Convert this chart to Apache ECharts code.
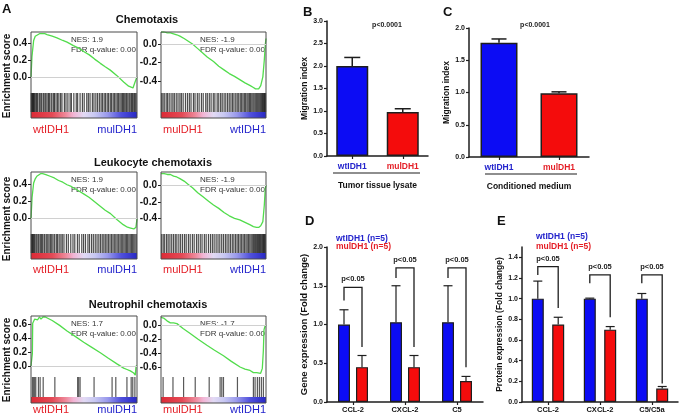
<!DOCTYPE html>
<html><head><meta charset="utf-8">
<script src="https://cdn.jsdelivr.net/npm/echarts@6/dist/echarts.min.js"></script>
<style>html,body{margin:0;padding:0;background:#fff}#c{width:680px;height:414px}</style>
</head><body><div id="c"></div>
<script>
// ================= DATA =================
// GSEA running enrichment score curves (x = % of ranked gene list)
const chemoWtX  = [0,0.9,2.5,4,5.7,8,10.4,13,15.1,20,24.5,30,34,40,45,49.7,55,60,65.4,70,74.8,81.1,87.4,92.1,96.2,97.8,99,100];
const chemoWtES = [0,0.24,0.43,0.48,0.50,0.51,0.51,0.51,0.50,0.48,0.46,0.43,0.41,0.37,0.34,0.30,0.26,0.21,0.16,0.12,0.08,0.015,-0.06,-0.11,-0.13,-0.115,-0.03,0.0];
const chemoMuX  = [0,3,6,9,12,15,18,22,26,30,35,40,44,50,55,60,65,70,75,80,85,88,90,93,95,97,98.4,99.4,100];
const chemoMuES = [0.13,0.13,0.12,0.12,0.11,0.10,0.085,0.06,0.03,0.0,-0.05,-0.10,-0.14,-0.19,-0.24,-0.28,-0.32,-0.35,-0.385,-0.42,-0.45,-0.47,-0.485,-0.485,-0.45,-0.355,-0.17,0.0,0.06];
const leukoWtX  = [0,1,2.5,4,5.5,7,9,11,14,18,22,26,30,34,38,42,46,50,55,60,65,70,75,81,87,91,94,97,99,100];
const leukoWtES = [0,0.25,0.42,0.47,0.50,0.52,0.53,0.53,0.52,0.50,0.48,0.45,0.43,0.40,0.38,0.35,0.32,0.29,0.25,0.20,0.15,0.10,0.06,-0.01,-0.07,-0.10,-0.11,-0.12,-0.10,0.0];
const leukoMuX  = [0,3,6,9,12,15,18,22,26,30,35,40,45,50,55,60,65,70,75,80,85,88,91,93,95,97,98.4,99.3,100];
const leukoMuES = [0.14,0.14,0.13,0.13,0.11,0.10,0.08,0.05,0.01,-0.03,-0.09,-0.14,-0.19,-0.24,-0.28,-0.33,-0.37,-0.40,-0.42,-0.45,-0.48,-0.50,-0.51,-0.51,-0.49,-0.44,-0.24,-0.04,0.0];
const neutroWtX  = [0,1.3,1.6,2.5,3.5,4.7,6.3,7.9,9.4,11.3,13.5,20,27,34,41,49.7,57,65.4,73,81.1,87.4,90.6,93.7,95.3,96.9,98.4,99.1,100];
const neutroWtES = [0,0.18,0.61,0.62,0.67,0.68,0.66,0.70,0.67,0.70,0.70,0.65,0.58,0.50,0.43,0.34,0.27,0.19,0.11,0.03,-0.03,-0.05,-0.07,-0.05,-0.10,-0.13,0.0,0.0];
const neutroMuX  = [0,2.5,5.7,8.9,10.4,12,15.2,21,27.8,35,43.7,51,59.5,67,75.3,80,84.8,88,89.6,91.1,92.7,94.9,96.5,97.5,98.1,99,100];
const neutroMuES = [0.11,0.10,0.06,0.03,0.05,0.03,0.02,-0.05,-0.12,-0.20,-0.29,-0.36,-0.44,-0.52,-0.60,-0.63,-0.65,-0.68,-0.66,-0.68,-0.66,-0.69,-0.62,-0.36,-0.07,-0.02,0.0];

// gene-set hit positions (barcode), % of ranked list
const chemoWtHits = [0.2,0.7,1.2,1.7,2.2,2.7,3.2,4.4,5.3,6.1,7.6,8.4,9.5,10.3,11.8,13.1,14.0,15.2,16.6,17.3,18.9,19.8,21.4,22.1,23.6,25.0,26.3,27.9,29.2,31.5,33.0,34.8,36.9,38.1,40.4,42.7,44.0,46.3,48.5,50.2,52.6,54.1,55.7,57.9,59.4,61.2,62.8,64.5,66.1,67.4,69.0,70.3,71.9,73.2,74.8,76.0,77.5,78.7,80.1,81.4,82.6,83.9,85.1,86.3,87.2,88.4,89.5,90.3,91.4,92.6,93.5,94.7,95.6,96.4,97.5,98.3,99.2];
const chemoMuHits = [0.5,1.8,3.1,4.9,6.2,7.8,9.6,11.3,12.7,14.5,16.2,18.0,19.4,21.1,23.3,25.2,27.0,28.6,30.9,32.4,34.6,36.3,38.5,40.2,42.6,44.1,46.0,47.7,49.8,51.3,53.5,55.0,56.8,58.3,60.1,61.7,63.4,65.0,66.6,68.1,69.5,71.2,72.6,74.0,75.5,76.8,78.1,79.4,80.6,81.9,83.0,84.2,85.3,86.5,87.6,88.6,89.7,90.7,91.6,92.5,93.4,94.3,95.1,95.9,96.7,97.4,98.0,98.6,99.1,99.6];
const leukoWtHits = [0.3,0.8,1.4,2.0,2.6,3.4,4.6,5.5,6.7,7.5,8.8,9.9,11.0,12.4,13.2,14.8,15.9,17.1,18.5,19.6,20.8,22.3,23.9,25.1,26.6,28.2,29.5,31.1,33.4,35.2,37.5,39.6,41.3,43.8,45.5,47.9,49.6,51.4,53.7,55.2,57.1,58.8,60.6,62.3,64.0,65.6,67.2,68.7,70.1,71.6,73.0,74.5,75.9,77.3,78.6,80.0,81.3,82.7,84.0,85.2,86.5,87.7,88.9,90.1,91.2,92.4,93.6,94.8,95.9,97.0,98.1,99.3];
const leukoMuHits = [0.6,2.1,3.5,5.3,6.8,8.5,10.2,11.9,13.6,15.1,17.0,18.7,20.5,22.4,24.0,26.1,27.8,29.9,31.6,33.8,35.5,37.4,39.1,41.3,43.0,45.2,47.1,48.9,50.6,52.5,54.3,56.0,57.8,59.5,61.3,62.9,64.6,66.2,67.9,69.4,71.0,72.5,73.9,75.4,76.8,78.2,79.5,80.9,82.1,83.4,84.6,85.8,86.9,88.0,89.1,90.1,91.1,92.0,92.9,93.8,94.6,95.4,96.2,96.9,97.6,98.2,98.8,99.4];
const neutroWtHits = [1.3,2.5,3.5,4.5,7,8.6,11.5,22.5,44,45,46.3,59.5,76.5,80,90.5,94.5,96,98];
const neutroMuHits = [2,11.4,21.5,32.6,45.9,56.3,57.9,59.5,72.8,88,89.6,91.8,93.7,95.6,97.5];

const esTicksPos  = [0, 0.2, 0.4];
const esTicksNeg  = [0, -0.2, -0.4];
const esTicksPos3 = [0, 0.2, 0.4, 0.6];
const esTicksNeg3 = [0, -0.2, -0.4, -0.6];
const gseaTitles = ['Chemotaxis', 'Leukocyte chemotaxis', 'Neutrophil chemotaxis'];
const nesLabels  = ['NES: 1.9', 'NES: -1.9', 'NES: 1.9', 'NES: -1.9', 'NES: 1.7', 'NES: -1.7'];
const fdrLabel   = 'FDR q-value: 0.00';

// Migration index (B, C)
const migCats = ['wtIDH1', 'mulDH1'];
const tumorLysate    = [2.00, 0.98];
const tumorLysateErr = [0.19, 0.07];
const condMedium     = [1.77, 0.99];
const condMediumErr  = [0.06, 0.02];

// Gene expression (D)
const geneCats  = ['CCL-2', 'CXCL-2', 'C5'];
const geneWt    = [1.00, 1.03, 1.03];
const geneWtErr = [0.19, 0.47, 0.47];
const geneMu    = [0.45, 0.45, 0.27];
const geneMuErr = [0.15, 0.15, 0.06];
const geneBracketTop   = [1.48, 1.73, 1.73];
const geneBracketLeft  = [1.31, 1.60, 1.60];
const geneBracketRight = [0.71, 0.71, 0.45];
const genePLabels = ['p<0.05', 'p<0.05', 'p<0.05'];

// Protein expression (E)
const protCats  = ['CCL-2', 'CXCL-2', 'C5/C5a'];
const protWt    = [1.00, 1.00, 1.00];
const protWtErr = [0.17, 0.005, 0.05];
const protMu    = [0.75, 0.70, 0.13];
const protMuErr = [0.07, 0.03, 0.02];
const protBracketTop   = [1.31, 1.23, 1.23];
const protBracketLeft  = [1.23, 1.15, 1.15];
const protBracketRight = [0.91, 0.82, 0.18];
const protPLabels = ['p<0.05', 'p<0.05', 'p<0.05'];
const protTicks = [0, 0.2, 0.4, 0.6, 0.8, 1.0, 1.2, 1.4];

// ================= STYLE / LAYOUT =================
const FONT = '"Liberation Sans", Arial, sans-serif';
const BLUE = '#0c0cf4', RED = '#f40c0c';
const BLUE_T = '#2424cc', RED_T = '#e41e26';
const DARK = '#1e1e1e';

const grids = [], xAxes = [], yAxes = [], series = [], graphics = [];
function addGrid(g) { grids.push(g); return grids.length - 1; }
function addAxes(gi, xa, ya) {
  xAxes.push(Object.assign({ gridIndex: gi }, xa));
  yAxes.push(Object.assign({ gridIndex: gi }, ya));
  return [xAxes.length - 1, yAxes.length - 1];
}
function txt(x, y, text, font, fill, align, vAlign, rotation) {
  graphics.push({ type: 'text', x: x, y: y, rotation: rotation || 0, silent: true,
    style: { text: text, font: font, fill: fill, align: align || 'left', verticalAlign: vAlign || 'middle',
             textAlign: align || 'left', textVerticalAlign: vAlign || 'middle' } });
}

// ---------- Panel A: GSEA ----------
const rows = [
  { top: 32, lineH: 61, barH: 25 },
  { top: 172, lineH: 62, barH: 25 },
  { top: 316, lineH: 61, barH: 26 }
];
const cols = [{ left: 31, w: 106 }, { left: 161, w: 105 }];
const gsea = [
  { r: 0, c: 0, x: chemoWtX, y: chemoWtES, hits: chemoWtHits, ticks: esTicksPos, min: -0.19, max: 0.53 },
  { r: 0, c: 1, x: chemoMuX, y: chemoMuES, hits: chemoMuHits, ticks: esTicksNeg, min: -0.53, max: 0.13 },
  { r: 1, c: 0, x: leukoWtX, y: leukoWtES, hits: leukoWtHits, ticks: esTicksPos, min: -0.18, max: 0.55 },
  { r: 1, c: 1, x: leukoMuX, y: leukoMuES, hits: leukoMuHits, ticks: esTicksNeg, min: -0.59, max: 0.16 },
  { r: 2, c: 0, x: neutroWtX, y: neutroWtES, hits: neutroWtHits, ticks: esTicksPos3, min: -0.157, max: 0.714 },
  { r: 2, c: 1, x: neutroMuX, y: neutroMuES, hits: neutroMuHits, ticks: esTicksNeg3, min: -0.743, max: 0.129 }
];
const labelY = [130, 270, 410];
const titleX = [147, 153, 148], titleY = [20, 163, 305];
const CB = 6; // colour bar height px

gsea.forEach(function (p, k) {
  const R = rows[p.r], C = cols[p.c];
  const cbFrac = CB / R.barH;
  // frame
  const gf = addGrid({ left: C.left, top: R.top, width: C.w, height: R.lineH + R.barH, show: true,
    borderColor: '#4a4a4a', borderWidth: 1, backgroundColor: 'transparent', z: 5 });
  addAxes(gf, { type: 'value', show: false }, { type: 'value', show: false });
  // running ES line
  const gl = addGrid({ left: C.left, top: R.top, width: C.w, height: R.lineH });
  const ax = addAxes(gl, { type: 'value', min: 0, max: 100, show: false },
    { type: 'value', min: p.min, max: p.max, axisLine: { show: false }, splitLine: { show: false },
      axisTick: { show: true, length: 3, customValues: p.ticks, lineStyle: { color: DARK, width: 1 } },
      axisLabel: { customValues: p.ticks, margin: 4, formatter: function (v) { return (+v).toFixed(1); },
        fontSize: 10, fontWeight: 'bold', color: '#111', fontFamily: FONT } });
  series.push({ type: 'line', xAxisIndex: ax[0], yAxisIndex: ax[1], symbol: 'none', showSymbol: false,
    data: p.x.map(function (v, i) { return [v, p.y[i]]; }),
    lineStyle: { color: '#52dc4c', width: 1.3 }, z: 3,
    markLine: { silent: true, symbol: 'none', label: { show: false }, animation: false,
      lineStyle: { color: '#d0d0d0', width: 1, type: 'solid' }, data: [{ yAxis: 0 }] } });
  // barcode + colour bar
  const gb = addGrid({ left: C.left, top: R.top + R.lineH, width: C.w, height: R.barH });
  const bx = addAxes(gb, { type: 'value', min: 0, max: 100, show: false }, { type: 'value', min: 0, max: 1, show: false });
  series.push({ type: 'custom', xAxisIndex: bx[0], yAxisIndex: bx[1], silent: true,
    data: p.hits.map(function (h) { return [h]; }),
    renderItem: function (params, api) {
      const a = api.coord([api.value(0), 1]);
      const b = api.coord([api.value(0), cbFrac]);
      return { type: 'rect', shape: { x: a[0] - 0.6, y: a[1], width: 1.2, height: b[1] - a[1] },
        style: { fill: p.r === 2 ? 'rgba(60,60,60,0.85)' : 'rgba(25,25,25,0.78)' } };
    } });
  series.push({ type: 'custom', xAxisIndex: bx[0], yAxisIndex: bx[1], silent: true,
    data: [[0, 100]],
    renderItem: function (params, api) {
      const a = api.coord([api.value(0), cbFrac]);
      const b = api.coord([api.value(1), 0]);
      return { type: 'rect', shape: { x: a[0], y: a[1], width: b[0] - a[0], height: b[1] - a[1] },
        style: { fill: new echarts.graphic.LinearGradient(0, 0, 1, 0, [
          { offset: 0, color: '#dc2a36' }, { offset: 0.2, color: '#e44a56' }, { offset: 0.33, color: '#ee8a9c' },
          { offset: 0.4, color: '#f2b4d4' }, { offset: 0.5, color: '#e2daf4' }, { offset: 0.6, color: '#c8c8f2' },
          { offset: 0.72, color: '#9a9aec' }, { offset: 0.85, color: '#5050dc' }, { offset: 1, color: '#2828c4' }]) } };
    } });
  // NES / FDR text
  const tx = C.left + (p.c === 0 ? 40 : 39);
  txt(tx, R.top + 8, nesLabels[k], '8px ' + FONT, '#333');
  txt(tx, R.top + 18, fdrLabel, '8px ' + FONT, '#333');
  // bottom group labels
  const right = C.left + C.w;
  const ly = labelY[p.r];
  if (p.c === 0) {
    txt(C.left + 2, ly, 'wtIDH1', '11px ' + FONT, RED_T, 'left');
    txt(right, ly, 'mulDH1', '11px ' + FONT, BLUE_T, 'right');
  } else {
    txt(C.left + 2, ly, 'mulDH1', '11px ' + FONT, RED_T, 'left');
    txt(right, ly, 'wtIDH1', '11px ' + FONT, BLUE_T, 'right');
  }
});
gseaTitles.forEach(function (t, i) { txt(titleX[i], titleY[i], t, 'bold 11px ' + FONT, '#111', 'center'); });
[76, 219, 360].forEach(function (y) { txt(7, y, 'Enrichment score', 'bold 10px ' + FONT, '#111', 'center', 'middle', Math.PI / 2); });

// ---------- helpers for bar panels ----------
function errSeries(xi, yi, vals, errs, offset, cap, lw) {
  return { type: 'custom', xAxisIndex: xi, yAxisIndex: yi, z: 4, silent: true,
    data: vals.map(function (v, i) { return [i, v, errs[i]]; }),
    renderItem: function (params, api) {
      const p0 = api.coord([api.value(0), api.value(1)]);
      const p1 = api.coord([api.value(0), api.value(1) + api.value(2)]);
      const x = p0[0] + offset;
      return { type: 'group', children: [
        { type: 'line', shape: { x1: x, y1: p0[1], x2: x, y2: p1[1] }, style: { stroke: DARK, lineWidth: lw } },
        { type: 'line', shape: { x1: x - cap / 2, y1: p1[1], x2: x + cap / 2, y2: p1[1] }, style: { stroke: DARK, lineWidth: lw } }
      ] };
    } };
}
function bracketSeries(xi, yi, tops, lefts, rights, labels, off) {
  return { type: 'custom', xAxisIndex: xi, yAxisIndex: yi, z: 4, silent: true,
    data: tops.map(function (t, i) { return [i, t, lefts[i], rights[i]]; }),
    renderItem: function (params, api) {
      const i = api.value(0);
      const pt = api.coord([i, api.value(1)]);
      const pl = api.coord([i, api.value(2)]);
      const pr = api.coord([i, api.value(3)]);
      const xl = pt[0] - off, xr = pt[0] + off;
      return { type: 'group', children: [
        { type: 'polyline', shape: { points: [[xl, pl[1]], [xl, pt[1]], [xr, pt[1]], [xr, pr[1]]] },
          style: { stroke: DARK, lineWidth: 1.3, fill: 'none' } },
        { type: 'text', x: pt[0], y: pt[1] - 4,
          style: { text: labels[params.dataIndex], font: 'bold 7.5px ' + FONT, fill: '#222',
            align: 'center', verticalAlign: 'bottom', textAlign: 'center', textVerticalAlign: 'bottom' } }
      ] };
    } };
}
const axLine = { show: true, lineStyle: { color: DARK, width: 1.5 } };
const axTick = { show: true, length: 3, lineStyle: { color: DARK, width: 1.2 } };
function valAxis(min, max, interval, name, nameSize, nameGap, extra) {
  return Object.assign({ type: 'value', min: min, max: max, interval: interval, axisLine: axLine, axisTick: axTick,
    splitLine: { show: false },
    axisLabel: { margin: 4, fontSize: 7, fontWeight: 'bold', color: '#111', fontFamily: FONT,
      formatter: function (v) { return (+v).toFixed(1); } },
    name: name, nameLocation: 'middle', nameGap: nameGap,
    nameTextStyle: { fontSize: nameSize, fontWeight: 'bold', color: '#111', fontFamily: FONT } }, extra || {});
}

// ---------- Panel B ----------
function migPanel(left, top, width, height, max, vals, errs, barW, groupName, capW) {
  const g = addGrid({ left: left, top: top, width: width, height: height });
  const ax = addAxes(g,
    { type: 'category', data: migCats, axisLine: axLine, axisTick: Object.assign({ alignWithLabel: true }, axTick),
      axisLabel: { margin: 6, fontSize: 8.5, fontWeight: 'bold', fontFamily: FONT,
        color: function (v, i) { return i === 0 ? BLUE_T : RED_T; } },
      name: groupName, nameLocation: 'middle', nameGap: 25,
      nameTextStyle: { fontSize: 8.5, fontWeight: 'bold', color: '#111', fontFamily: FONT } },
    valAxis(0, max, 0.5, 'Migration index', 8.5, left < 400 ? 15 : 17));
  series.push({ type: 'bar', xAxisIndex: ax[0], yAxisIndex: ax[1], barWidth: barW, z: 3,
    data: vals.map(function (v, i) { return { value: v, itemStyle: { color: i === 0 ? BLUE : RED } }; }),
    itemStyle: { borderColor: DARK, borderWidth: 1.5 } });
  series.push(errSeries(ax[0], ax[1], vals, errs, 0, capW, 1.5));
}
migPanel(327, 21, 101, 135, 3, tumorLysate, tumorLysateErr, 32, 'Tumor tissue lysate', 16);
migPanel(469, 28, 120, 129, 2, condMedium, condMediumErr, 37, 'Conditioned medium', 15);
txt(387, 25, 'p<0.0001', 'bold 7px ' + FONT, '#222', 'center');
txt(535, 25, 'p<0.0001', 'bold 7px ' + FONT, '#222', 'center');
graphics.push({ type: 'line', silent: true, shape: { x1: 333, y1: 173, x2: 420, y2: 173 }, style: { stroke: DARK, lineWidth: 1.2 } });
graphics.push({ type: 'line', silent: true, shape: { x1: 485, y1: 174, x2: 577, y2: 174 }, style: { stroke: DARK, lineWidth: 1.2 } });

// ---------- Panel D / E ----------
function exprPanel(left, cats, wt, wtErr, mu, muErr, yAxisOpt, gapPct, bTop, bLeft, bRight, pLabels) {
  const g = addGrid({ left: left, top: 247, width: 156, height: 155 });
  const ax = addAxes(g,
    { type: 'category', data: cats, axisLine: axLine, axisTick: Object.assign({ alignWithLabel: true }, axTick),
      axisLabel: { margin: 4, fontSize: 7.5, fontWeight: 'bold', color: '#111', fontFamily: FONT } },
    yAxisOpt);
  const bw = 12, off = (bw + bw * gapPct / 100) / 2;
  series.push({ type: 'bar', name: 'wtIDH1 (n=5)', xAxisIndex: ax[0], yAxisIndex: ax[1], barWidth: bw, barGap: gapPct + '%', z: 3,
    data: wt, itemStyle: { color: BLUE, borderColor: DARK, borderWidth: 1.2 } });
  series.push({ type: 'bar', name: 'mulDH1 (n=5)', xAxisIndex: ax[0], yAxisIndex: ax[1], barWidth: bw, barGap: gapPct + '%', z: 3,
    data: mu, itemStyle: { color: RED, borderColor: DARK, borderWidth: 1.2 } });
  series.push(errSeries(ax[0], ax[1], wt, wtErr, -off, 9, 1.2));
  series.push(errSeries(ax[0], ax[1], mu, muErr, off, 9, 1.2));
  series.push(bracketSeries(ax[0], ax[1], bTop, bLeft, bRight, pLabels, off));
}
exprPanel(327, geneCats, geneWt, geneWtErr, geneMu, geneMuErr,
  valAxis(0, 2, 0.5, 'Gene expression (Fold change)', 9.5, 14), 50,
  geneBracketTop, geneBracketLeft, geneBracketRight, genePLabels);
exprPanel(522, protCats, protWt, protWtErr, protMu, protMuErr,
  valAxis(0, 1.5, null, 'Protein expression (Fold change)', 8.5, 15, {
    axisTick: Object.assign({ customValues: protTicks }, axTick),
    axisLabel: { customValues: protTicks, margin: 4, fontSize: 7, fontWeight: 'bold', color: '#111', fontFamily: FONT,
      formatter: function (v) { return (+v).toFixed(1); } } }), 70,
  protBracketTop, protBracketLeft, protBracketRight, protPLabels);
txt(336, 239, 'wtIDH1 (n=5)', 'bold 8.5px ' + FONT, BLUE_T);
txt(336, 247, 'mulDH1 (n=5)', 'bold 8.5px ' + FONT, RED_T);
txt(536, 237, 'wtIDH1 (n=5)', 'bold 8.5px ' + FONT, BLUE_T);
txt(536, 247, 'mulDH1 (n=5)', 'bold 8.5px ' + FONT, RED_T);

// panel letters
txt(2, 9, 'A', 'bold 13px ' + FONT, '#111');
txt(303, 12, 'B', 'bold 13px ' + FONT, '#111');
txt(443, 12, 'C', 'bold 13px ' + FONT, '#111');
txt(305, 221, 'D', 'bold 13px ' + FONT, '#111');
txt(497, 221, 'E', 'bold 13px ' + FONT, '#111');

const chart = echarts.init(document.getElementById('c'), null, { renderer: 'canvas' });
chart.setOption({
  animation: false,
  backgroundColor: '#fff',
  textStyle: { fontFamily: FONT },
  grid: grids, xAxis: xAxes, yAxis: yAxes, series: series, graphic: graphics
});
</script></body></html>
